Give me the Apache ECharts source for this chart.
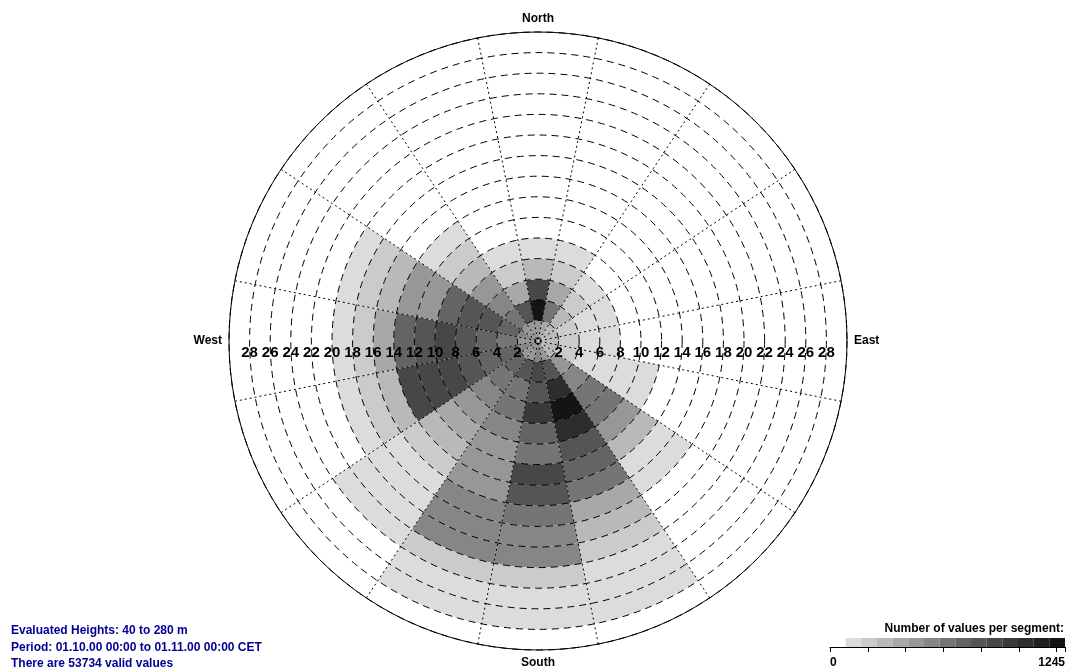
<!DOCTYPE html>
<html><head><meta charset="utf-8">
<script src="https://cdn.jsdelivr.net/npm/echarts@6/dist/echarts.min.js"></script>
<style>html,body{margin:0;padding:0;background:#fff}#c{width:1068px;height:670px}</style>
</head><body><div id="c"></div>
<script>
// Wind direction sectors (clockwise from North)
const directions = ['North','NNE','NE','ENE','East','ESE','SE','SSE','South','SSW','SW','WSW','West','WNW','NW','NNW'];
// Wind speed bins: each ring is 2 units wide, 0..30
const ringWidth = 2;
const speedMax = 30;
// Number of values per segment, inner ring outwards (0-2, 2-4, ...)
const countsN   = [455, 1200, 870, 290, 125];
const countsNNE = [375, 620, 375, 210, 125];
const countsNE  = [290, 290, 210, 125];
const countsENE = [290, 210, 125, 125];
const countsE   = [290, 210, 125, 125];
const countsESE = [290, 210, 125, 125, 125, 125];
const countsSE  = [290, 455, 540, 620, 620, 455, 290, 125, 125];
const countsSSE = [455, 790, 1040, 1200, 1040, 790, 705, 620, 375, 290, 210, 125, 125, 125];
const countsS   = [540, 870, 790, 955, 705, 620, 870, 790, 620, 540, 540, 210, 125, 125];
const countsSSW = [455, 790, 620, 620, 540, 455, 455, 455, 540, 540, 540, 210, 125, 125];
const countsSW  = [455, 705, 620, 540, 455, 375, 290, 210, 125, 125, 125, 125];
const countsWSW = [540, 705, 705, 790, 870, 870, 870, 290, 210, 125];
const countsW   = [455, 620, 705, 790, 870, 790, 705, 375, 210, 125];
const countsWNW = [540, 705, 790, 790, 705, 455, 455, 290, 210, 125];
const countsNW  = [455, 620, 540, 455, 290, 210, 125];
const countsNNW = [455, 790, 375, 210, 125];
const sectorCounts = [countsN, countsNNE, countsNE, countsENE, countsE, countsESE, countsSE, countsSSE,
  countsS, countsSSW, countsSW, countsWSW, countsW, countsWNW, countsNW, countsNNW];
// Colour scale
const scaleMax = 1245;
const levelCount = 15;
const grays = ['rgba(255,255,255,0)','#dcdcdc','#cbcbcb','#b9b9b9','#a8a8a8','#979797','#868686','#757575','#646464','#555555','#474747','#3a3a3a','#2d2d2d','#202020','#141414'];
const infoLines = ['Evaluated Heights: 40 to 280 m','Period: 01.10.00 00:00 to 01.11.00 00:00 CET','There are 53734 valid values'];

const binSize = scaleMax / levelCount;
const pieces = grays.map((c, k) => (k === levelCount - 1 ? {gte: k * binSize, lte: scaleMax + 1, color: c} : {gte: k * binSize, lt: (k + 1) * binSize, color: c}));

const ringCount = speedMax / ringWidth;
const series = [];
for (let i = 0; i < ringCount; i++) {
  series.push({
    type: 'bar', coordinateSystem: 'polar', polarIndex: 0, stack: 'rose',
    barCategoryGap: '0%', z: 2, silent: true,
    dimensions: ['radius', 'angle', 'count'],
    data: sectorCounts.map((arr, j) => (i < arr.length ? [ringWidth, j, arr[i]] : [0, j, 0]))
  });
}
series.push({
  type: 'bar', xAxisIndex: 0, yAxisIndex: 0, barCategoryGap: '0%', silent: true,
  dimensions: ['x', 'y', 'count'],
  data: grays.map((c, k) => [k, 1, k * binSize + binSize / 2])
});

const FONT = 'Liberation Sans';
const radLabel = (margin) => ({formatter: v => (v > 0 && v < speedMax ? String(v) : ''), color: '#000', fontWeight: 'bold', fontSize: 15, margin: margin, verticalAlign: 'middle', align: 'center', fontFamily: FONT});
const chart = echarts.init(document.getElementById('c'), null, {renderer: 'canvas'});
chart.setOption({
  backgroundColor: '#fff',
  animation: false,
  textStyle: {fontFamily: FONT},
  visualMap: {type: 'piecewise', show: false, dimension: 2, pieces: pieces, seriesIndex: series.map((s, i) => i)},
  polar: [{center: [538, 341], radius: 309}, {center: [538, 341], radius: 309}, {center: [538, 341], radius: 309}],
  angleAxis: [{
    polarIndex: 0, type: 'category', data: directions, startAngle: 90 + 360 / directions.length / 2, clockwise: true,
    boundaryGap: true, z: 5,
    axisLine: {lineStyle: {color: '#000', width: 1}},
    axisTick: {show: false},
    splitLine: {show: true, lineStyle: {color: '#000', width: 1, type: [2, 3]}},
    axisLabel: {formatter: v => (['North','East','South','West'].indexOf(v) >= 0 ? v : ''), color: '#000', fontWeight: 'bold', fontSize: 12, margin: 7, fontFamily: FONT}
  },
  {polarIndex: 1, type: 'value', min: 0, max: 360, startAngle: 0, show: false},
  {polarIndex: 2, type: 'value', min: 0, max: 360, startAngle: 180, show: false}],
  radiusAxis: [{
    polarIndex: 0, type: 'value', min: 0, max: speedMax, interval: ringWidth, z: 5,
    axisLine: {show: false}, axisTick: {show: false}, axisLabel: {show: false},
    splitLine: {show: true, lineStyle: {color: '#000', width: 1, type: [7, 5]}}
  }, {
    polarIndex: 1, type: 'value', min: 0, max: speedMax, interval: ringWidth, z: 6,
    axisLine: {show: false}, axisTick: {show: false}, splitLine: {show: false}, axisLabel: radLabel(-12)
  }, {
    polarIndex: 2, type: 'value', min: 0, max: speedMax, interval: ringWidth, z: 6,
    axisLine: {show: false}, axisTick: {show: false}, splitLine: {show: false}, axisLabel: radLabel(12)
  }],
  grid: [{left: 830, width: 235, top: 638, height: 9}],
  xAxis: [
    {gridIndex: 0, type: 'category', data: grays.map((c, k) => k), show: false},
    {gridIndex: 0, type: 'value', min: 0, max: scaleMax, interval: 200, position: 'bottom',
     axisLine: {show: true, lineStyle: {color: '#000', width: 1}},
     axisTick: {show: true, length: 5, lineStyle: {color: '#000'}},
     splitLine: {show: false},
     axisLabel: {formatter: v => (v === 0 || v === scaleMax ? String(v) : ''), color: '#000', fontWeight: 'bold', fontSize: 12, margin: 10, alignMinLabel: 'left', alignMaxLabel: 'right', fontFamily: FONT}}
  ],
  yAxis: [{gridIndex: 0, type: 'value', min: 0, max: 1, show: false}],
  graphic: [
    {type: 'text', right: 4, top: 623, style: {text: 'Number of values per segment:', font: 'bold 12px "Liberation Sans"', fill: '#000'}},
    {type: 'text', left: 11, top: 625, style: {text: infoLines[0], font: 'bold 12px "Liberation Sans"', fill: '#000096'}},
    {type: 'text', left: 11, top: 642, style: {text: infoLines[1], font: 'bold 12px "Liberation Sans"', fill: '#000096'}},
    {type: 'text', left: 11, top: 658, style: {text: infoLines[2], font: 'bold 12px "Liberation Sans"', fill: '#000096'}}
  ],
  series: series
});
</script></body></html>
